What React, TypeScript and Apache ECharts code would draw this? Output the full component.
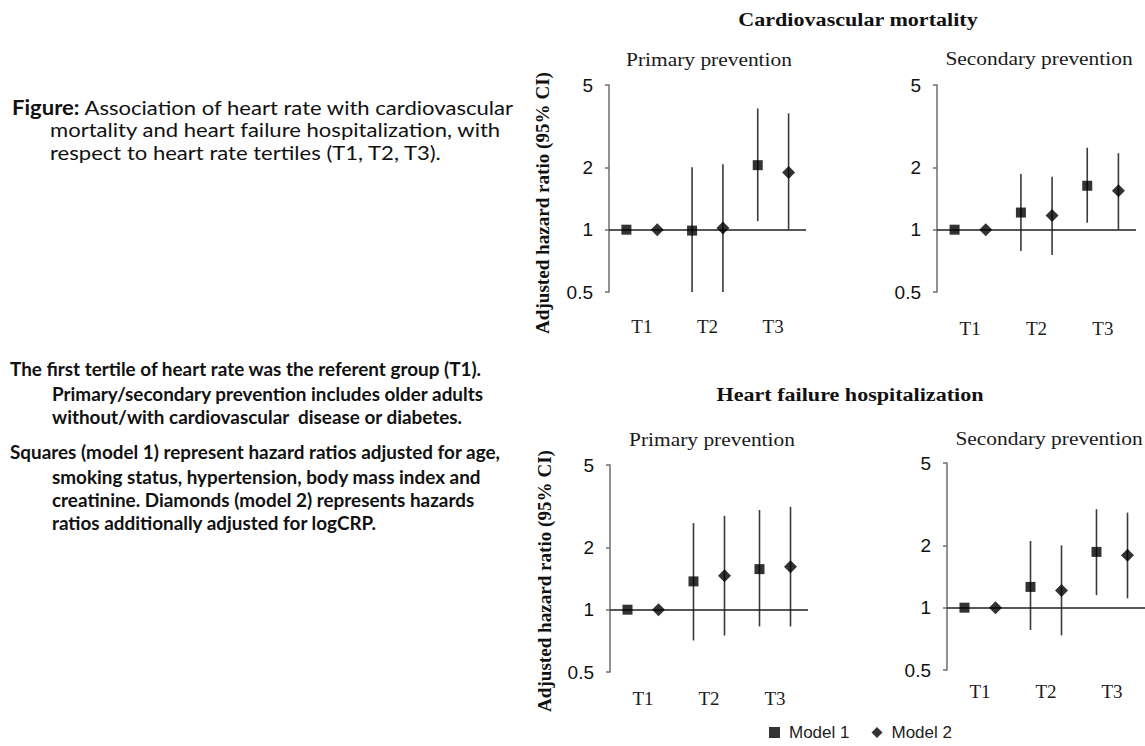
import React, { useEffect, useRef } from "react";
import * as echarts from "echarts";

const TERTILES = ["T1", "T2", "T3"];
const Y_TICKS = [0.5, 1, 2, 5];
const MODELS = ["Model 1", "Model 2"];

// Each row: [hazard ratio, lower 95% CI, upper 95% CI] for T1, T2, T3
const cvdPrimaryModel1 = [[1.0, 1.0, 1.0], [0.99, 0.5, 2.0], [2.05, 1.1, 3.85]];
const cvdPrimaryModel2 = [[1.0, 1.0, 1.0], [1.02, 0.5, 2.07], [1.89, 1.0, 3.65]];
const cvdSecondaryModel1 = [[1.0, 1.0, 1.0], [1.21, 0.79, 1.86], [1.63, 1.08, 2.49]];
const cvdSecondaryModel2 = [[1.0, 1.0, 1.0], [1.17, 0.755, 1.8], [1.54, 1.0, 2.34]];
const hfPrimaryModel1 = [[1.0, 1.0, 1.0], [1.37, 0.71, 2.62], [1.57, 0.83, 3.03]];
const hfPrimaryModel2 = [[1.0, 1.0, 1.0], [1.46, 0.75, 2.84], [1.61, 0.83, 3.14]];
const hfSecondaryModel1 = [[1.0, 1.0, 1.0], [1.26, 0.78, 2.1], [1.86, 1.15, 2.99]];
const hfSecondaryModel2 = [[1.0, 1.0, 1.0], [1.21, 0.735, 2.0], [1.79, 1.11, 2.88]];

const OUTCOME_TITLES = ["Cardiovascular mortality", "Heart failure hospitalization"];
const PANEL_TITLES = ["Primary prevention", "Secondary prevention", "Primary prevention", "Secondary prevention"];
const Y_NAME = "Adjusted hazard ratio (95% CI)";

const CAPTION_LEAD = "Figure:";
const CAPTION_LINES = [
  " Association of heart rate with cardiovascular",
  "mortality and heart failure hospitalization, with",
  "respect to heart rate tertiles (T1, T2, T3).",
];
const NOTE_LINES = [
  "The first tertile of heart rate was the referent group (T1).",
  "Primary/secondary prevention includes older adults",
  "without/with cardiovascular  disease or diabetes.",
  "Squares (model 1) represent hazard ratios adjusted for age,",
  "smoking status, hypertension, body mass index and",
  "creatinine. Diamonds (model 2) represents hazards",
  "ratios additionally adjusted for logCRP.",
];

const SERIF = "'Liberation Serif', 'Times New Roman', serif";
const SANS = "'Liberation Sans', Arial, sans-serif";
const CAPTION_FONT = "Lato, 'Open Sans', sans-serif";

// layout of the four forest panels
const PANELS = [
  { rows: [cvdPrimaryModel1, cvdPrimaryModel2], grid: { left: 609, top: 85, width: 197, height: 207 }, labelMargin: 25, title: [709, 60] },
  { rows: [cvdSecondaryModel1, cvdSecondaryModel2], grid: { left: 937, top: 85, width: 199, height: 207 }, labelMargin: 27, title: [1039, 59] },
  { rows: [hfPrimaryModel1, hfPrimaryModel2], grid: { left: 610, top: 465, width: 198, height: 207 }, labelMargin: 17, title: [712, 440] },
  { rows: [hfSecondaryModel1, hfSecondaryModel2], grid: { left: 947, top: 463, width: 198, height: 207 }, labelMargin: 12, title: [1049, 439] },
];
const MODEL_OFFSET = [-0.235, 0.235];
const MODEL_SYMBOL = ["rect", "diamond"];
const MODEL_SYMBOL_SIZE = [10, 13];

let measureCtx: CanvasRenderingContext2D | null = null;
function textWidth(text: string, font: string): number {
  if (!measureCtx) measureCtx = document.createElement("canvas").getContext("2d");
  if (!measureCtx) return text.length * 8;
  measureCtx.font = font;
  return measureCtx.measureText(text).width;
}

function buildOption() {
  const grids: any[] = [];
  const xAxes: any[] = [];
  const yAxes: any[] = [];
  const series: any[] = [];

  PANELS.forEach((panel, i) => {
    grids.push({ ...panel.grid, containLabel: false });
    xAxes.push({
      type: "value",
      gridIndex: i,
      min: -0.5,
      max: 2.5,
      axisLine: { show: false, onZero: false },
      axisTick: { show: false },
      splitLine: { show: false },
      axisLabel: {
        customValues: [0, 1, 2],
        formatter: (v: number) => TERTILES[Math.round(v)],
        margin: panel.labelMargin,
        fontFamily: SERIF,
        fontSize: 19,
        color: "#1a1a1a",
      },
    });
    yAxes.push({
      type: "log",
      logBase: 10,
      gridIndex: i,
      min: 0.5,
      max: 5,
      axisLine: { show: true, onZero: false, lineStyle: { color: "#6e6e6e", width: 1.5 } },
      axisTick: { show: true, length: 4, customValues: Y_TICKS, lineStyle: { color: "#6e6e6e", width: 1.5 } },
      axisLabel: {
        customValues: Y_TICKS,
        margin: 16,
        fontFamily: SANS,
        fontSize: 19,
        color: "#111",
        formatter: (v: number) => String(+Number(v).toPrecision(3)),
      },
      splitLine: { show: false },
    });

    // confidence-interval whiskers for both models
    const whiskers: number[][] = [];
    panel.rows.forEach((rows, m) => {
      rows.forEach((r, t) => {
        if (r[2] > r[1]) whiskers.push([t + MODEL_OFFSET[m], r[1], r[2]]);
      });
    });
    series.push({
      type: "custom",
      xAxisIndex: i,
      yAxisIndex: i,
      silent: true,
      z: 2,
      data: whiskers,
      encode: { x: 0, y: [1, 2] },
      renderItem: (_params: any, api: any) => {
        const x = api.value(0);
        const lo = api.coord([x, api.value(1)]);
        const hi = api.coord([x, api.value(2)]);
        return {
          type: "line",
          shape: { x1: lo[0], y1: lo[1], x2: hi[0], y2: hi[1] },
          style: { stroke: "#3a3a3a", lineWidth: 1.6 },
        };
      },
      markLine: {
        silent: true,
        symbol: "none",
        label: { show: false },
        lineStyle: { color: "#1f1f1f", width: 1.5, type: "solid" },
        data: [{ yAxis: 1 }],
      },
    });

    panel.rows.forEach((rows, m) => {
      series.push({
        type: "scatter",
        name: MODELS[m],
        xAxisIndex: i,
        yAxisIndex: i,
        z: 5,
        symbol: MODEL_SYMBOL[m],
        symbolSize: MODEL_SYMBOL_SIZE[m],
        itemStyle: { color: "#000" },
        data: rows.map((r, t) => [t + MODEL_OFFSET[m], r[0]]),
      });
    });
  });

  // texts
  const graphic: any[] = [];
  const titleFont = `bold 19px ${SERIF}`;
  const titleScale = 240 / textWidth(OUTCOME_TITLES[0], titleFont);
  [[858, 20], [850, 395]].forEach(([x, y], k) => {
    graphic.push({
      type: "text", x, y, scaleX: titleScale,
      style: { text: OUTCOME_TITLES[k], font: titleFont, fill: "#111", align: "center", verticalAlign: "middle" },
    });
  });
  const subFont = `18px ${SERIF}`;
  const subScale = 166 / textWidth(PANEL_TITLES[0], subFont);
  PANELS.forEach((panel, i) => {
    graphic.push({
      type: "text", x: panel.title[0], y: panel.title[1], scaleX: subScale,
      style: { text: PANEL_TITLES[i], font: subFont, fill: "#1a1a1a", align: "center", verticalAlign: "middle" },
    });
  });
  const nameFont = `bold 18px ${SERIF}`;
  const nameScale = 262 / textWidth(Y_NAME, nameFont);
  [[543, 203], [545, 581]].forEach(([x, y]) => {
    graphic.push({
      type: "text", x, y, rotation: Math.PI / 2, scaleX: nameScale,
      style: { text: Y_NAME, font: nameFont, fill: "#111", align: "center", verticalAlign: "middle" },
    });
  });

  // caption on the left
  const capSize = 20;
  const capWidth =
    textWidth(CAPTION_LEAD, `bold ${capSize}px ${CAPTION_FONT}`) +
    textWidth(CAPTION_LINES[0], `${capSize}px ${CAPTION_FONT}`);
  const capScale = 503 / capWidth;
  const capY = [107, 129, 152];
  CAPTION_LINES.forEach((line, k) => {
    graphic.push({
      type: "text", x: k === 0 ? 12 : 50, y: capY[k], scaleX: capScale,
      style: {
        text: k === 0 ? `{b|${CAPTION_LEAD}}${line}` : line,
        fontFamily: CAPTION_FONT, fontSize: capSize, fill: "#111",
        align: "left", verticalAlign: "middle",
        rich: { b: { fontFamily: CAPTION_FONT, fontSize: capSize, fontWeight: "bold", fill: "#111" } },
      },
    });
  });
  const noteFont = `bold 18px ${CAPTION_FONT}`;
  const noteScale = 472 / textWidth(NOTE_LINES[0], noteFont);
  const noteY = [369, 394, 417, 452, 477, 500, 523];
  const noteX = [10, 52, 52, 10, 52, 52, 52];
  NOTE_LINES.forEach((line, k) => {
    graphic.push({
      type: "text", x: noteX[k], y: noteY[k], scaleX: noteScale,
      style: { text: line, font: noteFont, fill: "#111", align: "left", verticalAlign: "middle" },
    });
  });

  return {
    animation: false,
    backgroundColor: "#fff",
    grid: grids,
    xAxis: xAxes,
    yAxis: yAxes,
    series,
    graphic,
    legend: {
      data: MODELS,
      left: 764,
      top: 719,
      itemWidth: 11,
      itemHeight: 11,
      itemGap: 22,
      textStyle: { fontFamily: SANS, fontSize: 17, color: "#222", padding: [0, 0, 0, 4] },
    },
  };
}

export default function App() {
  const ref = useRef<HTMLDivElement>(null);
  useEffect(() => {
    if (!ref.current) return;
    const chart = echarts.init(ref.current, undefined, { renderer: "svg" });
    chart.setOption(buildOption());
    return () => chart.dispose();
  }, []);
  return (
    <div
      ref={ref}
      style={{ position: "absolute", left: 0, top: 0, width: 1145, height: 746, background: "#fff" }}
    />
  );
}
